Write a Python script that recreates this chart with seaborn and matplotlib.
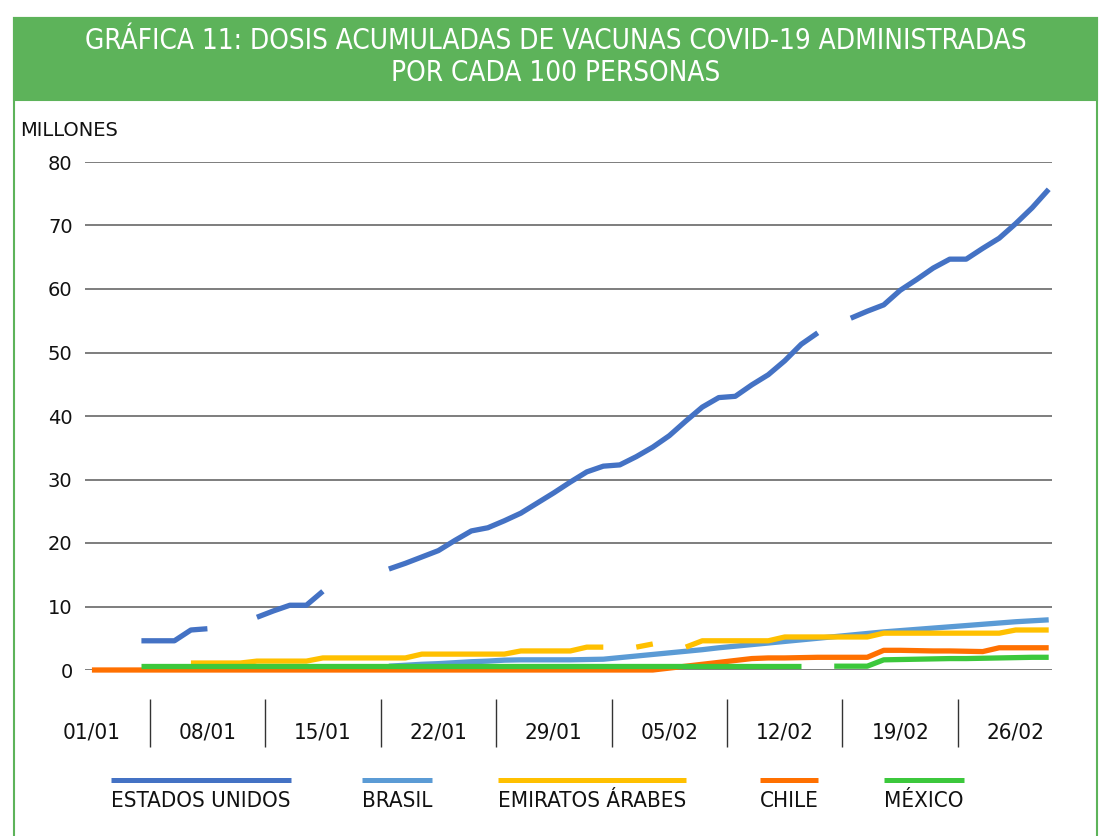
import numpy as np
import pandas as pd
import matplotlib.pyplot as plt
from matplotlib.lines import Line2D
from matplotlib.patches import Rectangle
import seaborn as sns

nan = np.nan

# daily observations, 01/01 to 28/02
dates = pd.date_range("2021-01-01", "2021-02-28", freq="D")

estados_unidos = [
    nan, nan, nan, 4.6, 4.6, 4.6, 6.3, 6.5, nan, nan,
    8.3, 9.3, 10.2, 10.2, 12.4, nan, nan, nan, 15.9, 16.8,
    17.8, 18.8, 20.4, 21.9, 22.4, 23.5, 24.7, 26.3, 27.9, 29.6,
    31.2, 32.1, 32.3, 33.6, 35.1, 36.9, 39.2, 41.4, 42.9, 43.1,
    44.9, 46.5, 48.7, 51.3, 53.1, nan, 55.4, 56.5, 57.5, 59.8,
    61.5, 63.3, 64.7, 64.7, 66.4, 68.0, 70.3, 72.8, 75.7,
]
brasil = [
    nan, nan, nan, nan, nan, nan, nan, nan, nan, nan,
    nan, nan, nan, nan, nan, nan, nan, nan, 0.6, 0.75,
    0.9, 1.0, 1.15, 1.3, 1.4, 1.55, 1.6, 1.6, 1.6, 1.6,
    1.65, 1.7, 1.95, 2.2, 2.45, 2.7, 2.95, 3.2, 3.5, 3.75,
    4.0, 4.25, 4.5, 4.75, 5.0, 5.25, 5.5, 5.75, 6.0, 6.2,
    6.4, 6.6, 6.8, 7.0, 7.2, 7.4, 7.6, 7.75, 7.9,
]
emiratos = [
    nan, nan, nan, nan, nan, nan, 1.1, 1.1, 1.1, 1.1,
    1.4, 1.4, 1.4, 1.4, 1.9, 1.9, 1.9, 1.9, 1.9, 1.9,
    2.5, 2.5, 2.5, 2.5, 2.5, 2.5, 3.0, 3.0, 3.0, 3.0,
    3.6, 3.6, nan, 3.6, 4.1, nan, 3.6, 4.6, 4.6, 4.6,
    4.6, 4.6, 5.2, 5.2, 5.2, 5.2, 5.2, 5.2, 5.8, 5.8,
    5.8, 5.8, 5.8, 5.8, 5.8, 5.8, 6.3, 6.3, 6.3,
]
chile = [
    0.0, 0.0, 0.0, 0.0, 0.0, 0.0, 0.0, 0.0, 0.0, 0.0,
    0.0, 0.0, 0.0, 0.0, 0.0, 0.0, 0.0, 0.0, 0.0, 0.0,
    0.0, 0.0, 0.0, 0.0, 0.0, 0.0, 0.0, 0.0, 0.0, 0.0,
    0.0, 0.0, 0.0, 0.0, 0.0, 0.3, 0.6, 0.9, 1.2, 1.5,
    1.8, 1.9, 1.9, 1.95, 2.0, 2.0, 2.0, 2.0, 3.1, 3.1,
    3.05, 3.0, 3.0, 2.95, 2.9, 3.5, 3.5, 3.5, 3.5,
]
mexico = [
    nan, nan, nan, 0.6, 0.6, 0.6, 0.6, 0.6, 0.6, 0.6,
    0.6, 0.6, 0.6, 0.6, 0.6, 0.6, 0.6, 0.6, 0.6, 0.6,
    0.6, 0.6, 0.6, 0.6, 0.6, 0.6, 0.6, 0.6, 0.6, 0.6,
    0.6, 0.6, 0.6, 0.6, 0.6, 0.6, 0.6, 0.6, 0.6, 0.6,
    0.6, 0.6, 0.6, 0.6, nan, 0.6, 0.6, 0.6, 1.6, 1.65,
    1.7, 1.75, 1.8, 1.8, 1.85, 1.9, 1.95, 2.0, 2.0,
]

series_names = ["ESTADOS UNIDOS", "BRASIL", "EMIRATOS ÁRABES", "CHILE", "MÉXICO"]
series_values = [estados_unidos, brasil, emiratos, chile, mexico]
colors = ["#4472C4", "#5B9BD5", "#FFC000", "#FF7000", "#3CC83C"]

y_ticks = [0, 10, 20, 30, 40, 50, 60, 70, 80]
tick_labels = list(dates[::7].strftime("%d/%m"))

GREEN = "#5DB35A"
NARROW = dict(family="DejaVu Sans", fontstretch="condensed")

# long table, one unit per unbroken stretch so the gaps stay open
frames = []
for name, vals in zip(series_names, series_values):
    v = pd.Series(vals, dtype=float)
    d = pd.DataFrame({"day": np.arange(len(dates)), "valor": v,
                      "pais": name, "tramo": v.isna().cumsum()})
    frames.append(d.dropna())
df = pd.concat(frames, ignore_index=True)

sns.set_style("white")
plt.rcParams["font.family"] = ["DejaVu Sans"]

W, H = 1100, 836
fig = plt.figure(figsize=(W / 100, H / 100), dpi=100)
ax = fig.add_axes([85 / W, 1 - 670 / H, (1052 - 85) / W, (670 - 162) / H])

sns.lineplot(
    data=df, x="day", y="valor", hue="pais", units="tramo",
    estimator=None, palette=dict(zip(series_names, colors)),
    hue_order=series_names, linewidth=3.8, legend=False, ax=ax,
)
for ln in ax.lines:
    ln.set_clip_on(False)
    ln.set_solid_capstyle("butt")

ax.set_xlim(-0.42, 58.2)
ax.set_ylim(0, 80)
ax.set_yticks(y_ticks)
ax.set_yticklabels([str(t) for t in y_ticks], fontsize=14, color="#111111")
ax.yaxis.grid(True, color="#5a5a5a", linewidth=1.1)
ax.set_axisbelow(True)
ax.set_xticks(np.arange(0, len(dates), 7))
ax.set_xticklabels(tick_labels, fontsize=16, color="#111111", **NARROW)
ax.tick_params(axis="both", length=0)
ax.tick_params(axis="x", pad=38)
ax.tick_params(axis="y", pad=9)
ax.set_xlabel("")
ax.set_ylabel("")
sns.despine(ax=ax, left=True, bottom=True, top=True, right=True)

# separators between the weekly labels
ax.vlines(np.arange(3.5, 56, 7), -0.057, -0.152, color="#333333",
          linewidth=1, transform=ax.get_xaxis_transform(), clip_on=False)

# frame and header band
fig.patches.append(Rectangle((14 / W, -0.05), (1097 - 14) / W, 1.05 - 18 / H,
                             transform=fig.transFigure, fill=False,
                             edgecolor=GREEN, linewidth=1.5))
fig.patches.append(Rectangle((14 / W, 1 - 100 / H), (1097 - 14) / W, 82 / H,
                             transform=fig.transFigure, facecolor=GREEN,
                             edgecolor=GREEN, linewidth=1.5))
fig.text(0.505, 1 - 41 / H,
         "GRÁFICA 11: DOSIS ACUMULADAS DE VACUNAS COVID-19 ADMINISTRADAS",
         ha="center", va="center", color="white", fontsize=20, **NARROW)
fig.text(0.505, 1 - 73 / H, "POR CADA 100 PERSONAS",
         ha="center", va="center", color="white", fontsize=20, **NARROW)

fig.text(20 / W, 1 - 130 / H, "MILLONES", ha="left", va="center",
         fontsize=14, color="#111111")

# legend: coloured bar above each label
legend_x = [201, 397, 592, 789, 924]
labels = []
for name, lx in zip(series_names, legend_x):
    labels.append(fig.text(lx / W, 1 - 801 / H, name, ha="center", va="center",
                           fontsize=16, color="#111111", **NARROW))
fig.canvas.draw()
renderer = fig.canvas.get_renderer()
for t, c in zip(labels, colors):
    bb = t.get_window_extent(renderer)
    fig.add_artist(Line2D([bb.x0 / W, bb.x1 / W], [1 - 780 / H, 1 - 780 / H],
                          transform=fig.transFigure, color=c, linewidth=3.6,
                          solid_capstyle="butt"))

fig.savefig("out.png", dpi=100)
